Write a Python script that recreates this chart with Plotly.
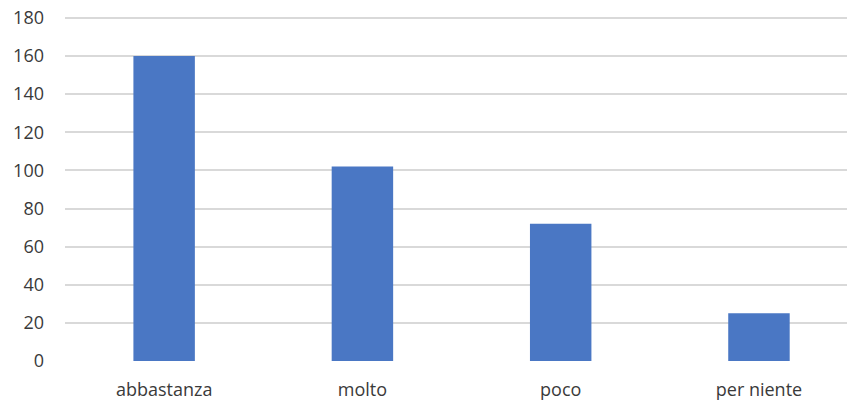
import plotly.graph_objects as go

categories = ["abbastanza", "molto", "poco", "per niente"]
values = [160, 102, 72, 25]
y_ticks = [0, 20, 40, 60, 80, 100, 120, 140, 160, 180]

fig = go.Figure(go.Bar(
    x=categories, y=values,
    marker=dict(color="#4a77c4", line=dict(width=0)),
    width=0.31,
))

fig.update_layout(
    width=847, height=405,
    margin=dict(l=65, r=0, t=16, b=44),
    paper_bgcolor="white", plot_bgcolor="white",
    font=dict(family="Open Sans", size=18, color="#3a3a3a"),
    showlegend=False,
)
fig.update_xaxes(
    range=[-0.5, 3.444], showgrid=False, zeroline=False,
    showline=False, ticks="", ticklabelstandoff=16,
)
fig.update_yaxes(
    range=[0, 181], tickvals=y_ticks, showgrid=True,
    gridcolor="#d9d9d9", gridwidth=1.5, zeroline=False, showline=False,
    ticks="", ticklabelstandoff=20,
)

fig.write_html(
    "out.html",
    config={"displayModeBar": False},
    post_script="document.body.style.margin='0';document.documentElement.style.overflow='hidden';",
)
